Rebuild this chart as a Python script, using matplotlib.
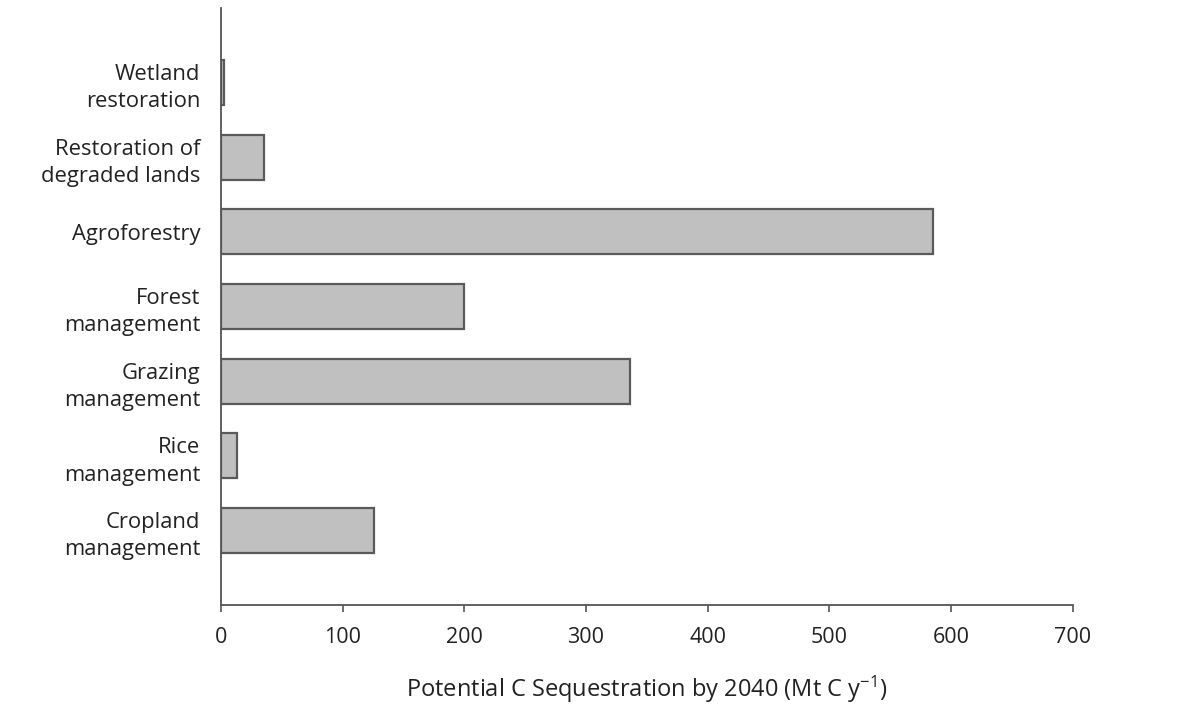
import matplotlib.pyplot as plt
import numpy as np

plt.rcParams['font.family'] = ['Open Sans', 'DejaVu Sans']
plt.rcParams['mathtext.fontset'] = 'custom'
plt.rcParams['mathtext.rm'] = 'Open Sans'
plt.rcParams['mathtext.it'] = 'Open Sans:italic'

# practices, listed from top to bottom as in the figure
practices = [
    "Wetland\nrestoration",
    "Restoration of\ndegraded lands",
    "Agroforestry",
    "Forest\nmanagement",
    "Grazing\nmanagement",
    "Rice\nmanagement",
    "Cropland\nmanagement",
]
sequestration = [2.5, 35, 585, 200, 336, 13, 126]  # Mt C / yr
x_ticks = [0, 100, 200, 300, 400, 500, 600, 700]

fig = plt.figure(figsize=(11.88, 7.17), dpi=100)
ax = fig.add_axes([0.186, 0.156, 0.717, 0.833])

pos = np.arange(len(practices))
ax.barh(pos, sequestration, height=0.6, color='#c0c0c0',
        edgecolor='#5a5a5a', linewidth=1.6)

ax.set_ylim(len(practices), -1)
ax.set_xlim(0, 700)
ax.set_yticks(pos)
ax.set_yticklabels(practices, fontsize=15.8, color='#222222', linespacing=1.4)
ax.set_xticks(x_ticks)
ax.tick_params(axis='x', labelsize=15.5, labelcolor='#222222', colors='#555555',
               length=5, width=1.2, pad=11)
ax.tick_params(axis='y', length=0, pad=15)

for side in ['top', 'right']:
    ax.spines[side].set_visible(False)
for side in ['left', 'bottom']:
    ax.spines[side].set_color('#555555')
    ax.spines[side].set_linewidth(1.3)

ax.set_xlabel("Potential C Sequestration by 2040 (Mt C y$^{-1}$)",
              fontsize=17, color='#222222', labelpad=18)

fig.savefig('out.png', dpi=100)
